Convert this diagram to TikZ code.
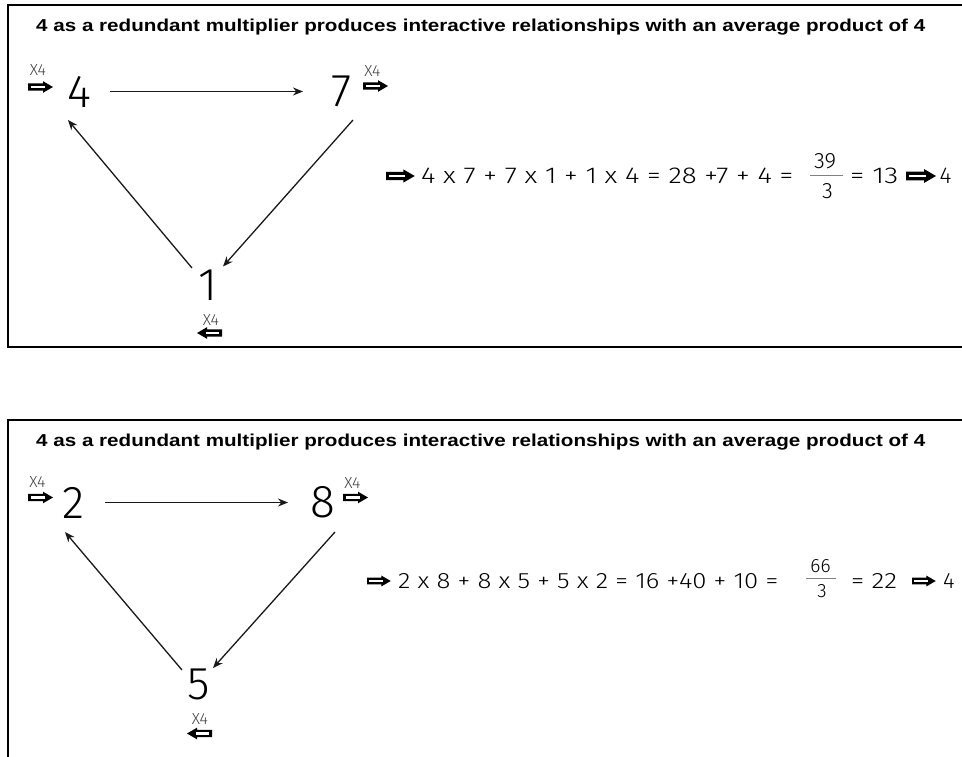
\documentclass[tikz,border=0pt]{standalone}
\usepackage{fontspec}
\setmainfont{Liberation Sans}
\newfontfamily\thinfont{Fira Sans Light}
\usetikzlibrary{arrows.meta}
\tikzset{
  x=1pt, y=-1pt,
  frame/.style={line width=2pt, black},
  conn/.style={-{Stealth[length=10pt,width=8pt]}, line width=1.3pt, black!90},
  num/.style={inner sep=0pt, font=\thinfont\fontsize{46}{46}\selectfont},
  xlab/.style={inner sep=0pt, text=black!75, font=\thinfont\fontsize{16}{16}\selectfont},
  ttl/.style={inner sep=0pt, anchor=base west},
  eq/.style={inner sep=0pt, anchor=west},
  fr/.style={inner sep=0pt},
  fbar/.style={line width=0.8pt, black!50},
  pics/fatarr/.style={code={
    \fill[black] (0,-3.6) -- (15,-3.6) -- (15,-5.8) -- (25,0) -- (15,5.8) -- (15,3.6) -- (0,3.6) -- cycle;
    \fill[white] (2.6,-1.2) rectangle (16.5,1.2);
  }}
}
\newcommand\ttltext{4 as a redundant multiplier produces interactive relationships with an average product of 4}
\newcommand\eqbox[3]{\resizebox{#1pt}{#2pt}{\thinfont #3}}
\newcommand\hbx[2]{\resizebox{!}{#1pt}{\thinfont #2}}
\begin{document}
\begin{tikzpicture}
\useasboundingbox (0,0) rectangle (962,757);
\clip (0,0) rectangle (962,757);
% ---------- box 1 ----------
\draw[frame] (970,5) -- (8,5) -- (8,347) -- (970,347);
\node[ttl] (t1) at (36,31.5) {\resizebox{889pt}{12.5pt}{\bfseries\ttltext}};
\node[num] (n4) at (79,91.5) {4};
\node[num] (n7) at (342,91.5) {7};
\node[num] (n1) at (207.5,285) {1};
\node[xlab] (xa) at (38,70) {X4};
\pic at (28,87) {fatarr};
\node[xlab] (xb) at (372.5,71) {X4};
\pic at (363,86) {fatarr};
\node[xlab] (xc) at (211,320) {X4};
\pic[xscale=-1] at (222,333) {fatarr};
\draw[conn] ([xshift=31pt]n4.center) -- ([xshift=-39pt]n7.center);
\draw[conn] ([xshift=11pt,yshift=-28.5pt]n7.center) -- ([xshift=15.5pt,yshift=18.5pt]n1.center);
\draw[conn] ([xshift=-15.5pt,yshift=17pt]n1.center) -- ([xshift=-11pt,yshift=-28.5pt]n4.center);
% equation 1
\pic[scale=1.15] at (386,176) {fatarr};
\node[eq] (e1) at (421,176) {\eqbox{372}{15.5}{4 x 7 + 7 x 1 + 1 x 4 = 28 +7 + 4 =}};
\node[fr] (f1n) at (825,161) {\hbx{15}{39}};
\draw[fbar] (810,175) -- (843,175);
\node[fr] (f1d) at (827.5,191) {\hbx{15}{3}};
\node[eq] (e1b) at (850,176) {\eqbox{48}{15.5}{= 13}};
\pic[scale=1.2] at (906,176) {fatarr};
\node[eq] (e1c) at (939.5,176) {\hbx{15.5}{4}};
% ---------- box 2 ----------
\draw[frame] (970,420) -- (8,420) -- (8,770);
\node[ttl] (t2) at (36,446.5) {\resizebox{889pt}{12.5pt}{\bfseries\ttltext}};
\node[num] (n2) at (74,502.5) {2};
\node[num] (n8) at (322.5,502.5) {8};
\node[num] (n5) at (199,684.5) {5};
\node[xlab] (xd) at (37.5,482) {X4};
\pic at (28,497.5) {fatarr};
\node[xlab] (xe) at (352.5,483) {X4};
\pic at (343,497.5) {fatarr};
\node[xlab] (xf) at (200,719.5) {X4};
\pic[xscale=-1] at (212,733.5) {fatarr};
\draw[conn] ([xshift=31pt]n2.center) -- ([xshift=-34.5pt]n8.center);
\draw[conn] ([xshift=12.5pt,yshift=-29.5pt]n8.center) -- ([xshift=14pt,yshift=16.5pt]n5.center);
\draw[conn] ([xshift=-17pt,yshift=14.5pt]n5.center) -- ([xshift=-9pt,yshift=-29.5pt]n2.center);
% equation 2
\pic[scale=0.95] at (367,581) {fatarr};
\node[eq] (e2) at (398,581) {\eqbox{380}{15}{2 x 8 + 8 x 5 + 5 x 2 = 16 +40 + 10 =}};
\node[fr] (f2n) at (820.5,566) {\hbx{13}{66}};
\draw[fbar] (806,578) -- (836,578);
\node[fr] (f2d) at (822,591) {\hbx{13}{3}};
\node[eq] (e2b) at (851,581) {\eqbox{46}{15}{= 22}};
\pic[scale=0.95] at (912,581) {fatarr};
\node[eq] (e2c) at (943,581) {\hbx{15}{4}};
\end{tikzpicture}
\end{document}
